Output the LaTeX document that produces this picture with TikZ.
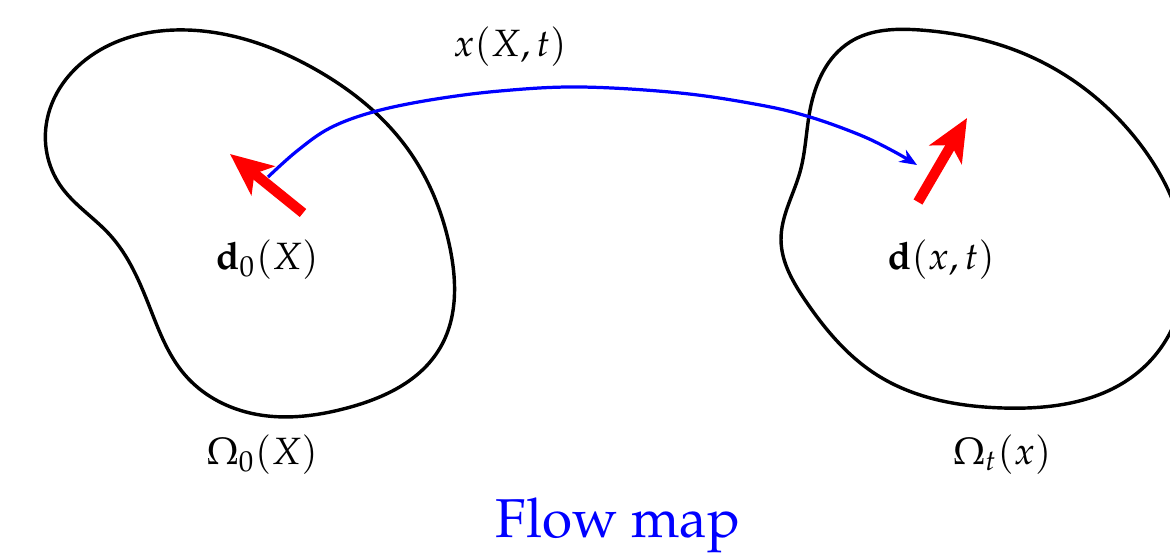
\documentclass[tikz,border=0pt]{standalone}
\usepackage[T1]{fontenc}
\usepackage{mathpazo}
\usetikzlibrary{arrows.meta,hobby}
\begin{document}
\begin{tikzpicture}[x=0.0925mm,y=-0.0925mm,
  region/.style={draw=black,line width=0.9pt},
  director/.style={draw=red,line width=0.95mm,-{Stealth[length=3.9mm,width=3.4mm,inset=1mm]}},
  flowline/.style={draw=blue,line width=0.85pt,-{Stealth[length=1.6mm,width=1.3mm,inset=0.5mm]}},
  lbl/.style={inner sep=0pt}]
\useasboundingbox (0,0) rectangle (1170,555);
\begin{scope}
\clip (0,0) rectangle (1170,555);
\draw[region, use Hobby shortcut, closed=true]
  (187,30) .. (313,68) .. (407,148) .. (450,248) .. (440,348) .. (347,408) .. (250,413)
  .. (185,375) .. (150,308) .. (110,235) .. (60,185) .. (47,120) .. (100,50);
\draw[region, use Hobby shortcut, closed=true]
  (920,30) .. (1027,55) .. (1143,148) .. (1186,270) .. (1143,368) .. (1003,408) .. (877,375)
  .. (805,300) .. (781,240) .. (800,172) .. (810,110) .. (850,42);
\end{scope}
% directors
\coordinate (d0tail) at (303,213);
\coordinate (d0tip) at (230,154);
\coordinate (dttail) at (918,202);
\coordinate (dttip) at (967,118);
\draw[director] (d0tail) -- (d0tip);
\draw[director] (dttail) -- (dttip);
% flow map curve
\coordinate (fs) at (268,177);
\coordinate (fe) at (917,165);
\draw[flowline] plot[smooth, tension=0.6] coordinates {
  (fs) (297,151) (330,128) (373,112) (430,100) (500,91) (580,87) (680,93)
  (760,105) (810,117) (860,135) (893,151) (fe)};
% labels
\node[lbl] (xlab) at (510,47) {$x(X,t)$};
\node[lbl] (d0lab) at (267,260) {$\mathbf{d}_0(X)$};
\node[lbl] (dlab) at (941,260) {$\mathbf{d}(x,t)$};
\node[lbl] (om0) at (262,455) {$\Omega_0(X)$};
\node[lbl] (omt) at (1002,455) {$\Omega_t(x)$};
\node[lbl,text=blue,font=\Large] (title) at (618,525) {Flow map};
\end{tikzpicture}
\end{document}
